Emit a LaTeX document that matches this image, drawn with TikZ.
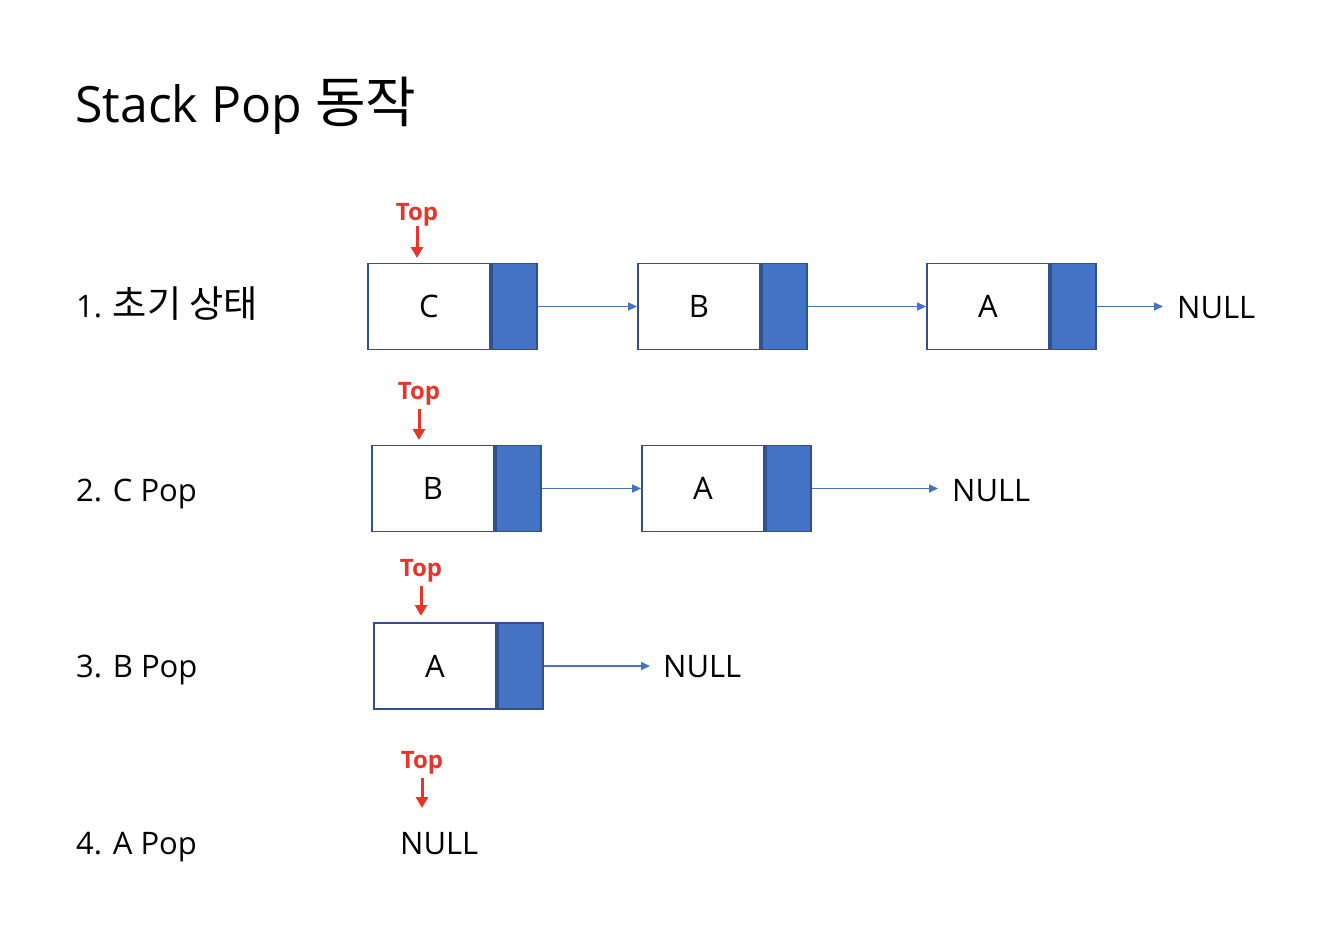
\documentclass[tikz,border=0pt]{standalone}
\usepackage{fontspec}
\setmainfont{Open Sans}
\newfontfamily\kr[Scale=1.2]{Noto Sans CJK KR}
\newfontfamily\krt[Scale=1.1]{Noto Sans CJK KR}
\usetikzlibrary{arrows.meta}
\definecolor{cellblue}{HTML}{4472C4}
\definecolor{cellborder}{HTML}{2F528F}
\definecolor{topred}{HTML}{E8352A}
\tikzset{
  x=1pt, y=-1pt,
  datacell/.style={draw=cellborder, fill=white, line width=1.8pt, minimum width=122pt, minimum height=86pt, inner sep=0pt, font=\fontsize{31}{31}\selectfont},
  ptrcell/.style={draw=cellborder, fill=cellblue, line width=1.8pt, minimum width=45pt, minimum height=86pt, inner sep=0pt, anchor=west},
  link/.style={draw=cellblue, line width=1.6pt, -{Triangle[length=9pt,width=8pt]}},
  nulltxt/.style={font=\fontsize{31}{31}\selectfont, inner sep=0pt, anchor=base west},
  rowlbl/.style={font=\fontsize{31}{31}\selectfont, inner sep=0pt, anchor=base west},
  toplbl/.style={text=topred, font=\bfseries\fontsize{24}{24}\selectfont, inner sep=0pt, anchor=base},
  toparrow/.style={draw=topred, line width=3pt, -{Triangle[length=11pt,width=12pt]}}
}
\begin{document}
\begin{tikzpicture}
\useasboundingbox (0,0) rectangle (1330,934);
\node[font=\fontsize{50}{50}\selectfont, inner sep=0pt, anchor=base west] (title) at (75,122) {Stack Pop {\krt 동작}};

% Row 1
\node[rowlbl] (l1) at (76,317) {1. {\kr 초기 상태}};
\node[datacell] (c1) at (429,306.5) {C};
\node[ptrcell] (c1p) at (c1.east) {};
\node[datacell] (b1) at (699,306.5) {B};
\node[ptrcell] (b1p) at (b1.east) {};
\node[datacell] (a1) at (988,306.5) {A};
\node[ptrcell] (a1p) at (a1.east) {};
\node[nulltxt] (n1) at (1177,318) {NULL};
\coordinate (n1e) at (1163,306.5);
\draw[link] (c1p.east) -- (b1.west);
\draw[link] (b1p.east) -- (a1.west);
\draw[link] (a1p.east) -- (n1e);
\node[toplbl] (t1) at (417,220) {Top};
\coordinate (t1e) at (417,258);
\draw[toparrow] (417,226) -- (t1e);

% Row 2
\node[rowlbl] (l2) at (76,501) {2. C Pop};
\node[datacell] (b2) at (433,488.5) {B};
\node[ptrcell] (b2p) at (b2.east) {};
\node[datacell] (a2) at (703,488.5) {A};
\node[ptrcell] (a2p) at (a2.east) {};
\node[nulltxt] (n2) at (952,501) {NULL};
\coordinate (n2e) at (938,488.5);
\draw[link] (b2p.east) -- (a2.west);
\draw[link] (a2p.east) -- (n2e);
\node[toplbl] (t2) at (419,399) {Top};
\coordinate (t2e) at (419,440);
\draw[toparrow] (419,409) -- (t2e);

% Row 3
\node[rowlbl] (l3) at (76,677) {3. B Pop};
\node[datacell] (a3) at (435,666) {A};
\node[ptrcell] (a3p) at (a3.east) {};
\node[nulltxt] (n3) at (663,677) {NULL};
\coordinate (n3e) at (650,666);
\draw[link] (a3p.east) -- (n3e);
\node[toplbl] (t3) at (421,576) {Top};
\coordinate (t3e) at (421,616);
\draw[toparrow] (421,586) -- (t3e);

% Row 4
\node[rowlbl] (l4) at (76,854) {4. A Pop};
\node[nulltxt] (n4) at (400,854) {NULL};
\node[toplbl] (t4) at (422,768) {Top};
\coordinate (t4e) at (422,808);
\draw[toparrow] (422,778) -- (t4e);
\end{tikzpicture}
\end{document}
